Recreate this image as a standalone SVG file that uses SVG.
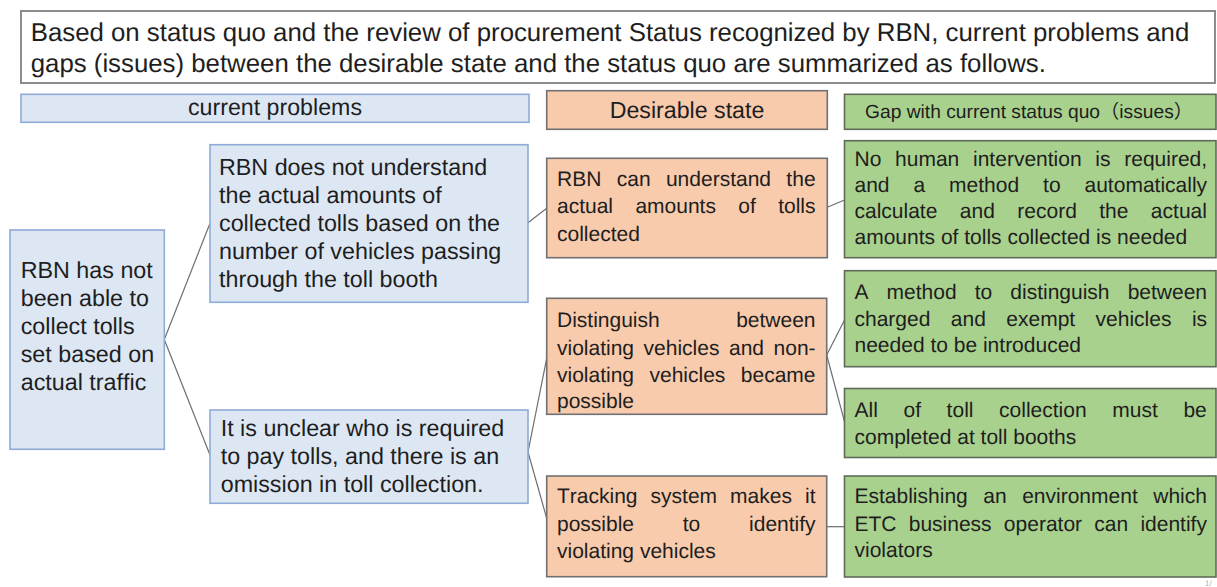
<svg xmlns="http://www.w3.org/2000/svg" width="1217" height="587" viewBox="0 0 1217 587">
<style>
text{font-family:"Liberation Sans",Arial,sans-serif;fill:#1e1e1e;font-kerning:none;text-rendering:geometricPrecision}
.title{font-size:25.8px}
.hd{font-size:23.2px}
.b{font-size:23.3px}
.j{font-size:21px}
.blue{fill:#dde7f4;stroke:#8eaad6;stroke-width:1.6}
.org{fill:#f8cbad;stroke:#707070;stroke-width:1.6}
.grn{fill:#a9d18e;stroke:#5f6b58;stroke-width:1.6}
.conn line{stroke:#6e6e6e;stroke-width:1.2;fill:none}
</style>
<rect width="1217" height="587" fill="#ffffff"/>
<g id="title">
<rect x="21" y="11" width="1194" height="72" fill="#ffffff" stroke="#8c8c8c" stroke-width="2"/>
<text class="title" x="30.7" y="40.7">Based on status quo and the review of procurement Status recognized by RBN, current problems and</text>
<text class="title" x="30.7" y="71.7">gaps (issues) between the desirable state and the status quo are summarized as follows.</text>
</g>
<g id="hdr-current">
<rect class="blue" x="21" y="94.3" width="508" height="28"/>
<text class="hd" x="275" y="115" text-anchor="middle">current problems</text>
</g>
<g id="hdr-desirable">
<rect class="org" x="546.7" y="90.7" width="280.6" height="38.6"/>
<text class="hd" x="687" y="118.3" text-anchor="middle">Desirable state</text>
</g>
<g id="hdr-gap">
<rect class="grn" x="844.5" y="94.3" width="371.5" height="35"/>
<text x="865" y="118.3" style="font-family:'Liberation Sans','Noto Sans CJK JP',sans-serif;font-size:19px" textLength="328" lengthAdjust="spacingAndGlyphs">Gap with current status quo（issues）</text>
</g>
<g class="conn" id="connectors">
<line x1="164.3" y1="339.5" x2="210" y2="223.3"/>
<line x1="164.3" y1="339.5" x2="210" y2="455"/>
<line x1="528" y1="222.7" x2="546.7" y2="208.3"/>
<line x1="827.3" y1="207.3" x2="844.5" y2="200"/>
<line x1="528" y1="452" x2="546.7" y2="358.3"/>
<line x1="528" y1="452" x2="546.7" y2="518.3"/>
<line x1="826.7" y1="355" x2="844.5" y2="320"/>
<line x1="826.7" y1="355" x2="844.5" y2="421.7"/>
<line x1="826.7" y1="526.7" x2="844.5" y2="526.7"/>
</g>
<g id="p-root">
<rect class="blue" x="10" y="230" width="154.3" height="219.3"/>
<text class="b" x="20.7" y="278.3">RBN has not</text>
<text class="b" x="20.7" y="306.3">been able to</text>
<text class="b" x="20.7" y="334.3">collect tolls</text>
<text class="b" x="20.7" y="362.3">set based on</text>
<text class="b" x="20.7" y="390.3">actual traffic</text>
</g>
<g id="p-amounts">
<rect class="blue" x="210" y="144.7" width="318" height="157.6"/>
<text class="b" x="219" y="174.5">RBN does not understand</text>
<text class="b" x="219" y="202.6">the actual amounts of</text>
<text class="b" x="219" y="230.7">collected tolls based on the</text>
<text class="b" x="219" y="258.8">number of vehicles passing</text>
<text class="b" x="219" y="286.9">through the toll booth</text>
</g>
<g id="p-unclear">
<rect class="blue" x="210" y="410" width="318" height="93.3"/>
<text class="b" x="220.7" y="436.3">It is unclear who is required</text>
<text class="b" x="220.7" y="464.3">to pay tolls, and there is an</text>
<text class="b" x="220.7" y="492">omission in toll collection.</text>
</g>
<g id="d-understand">
<rect class="org" x="546.7" y="158.3" width="280.6" height="99.4"/>
<text class="j" x="557" y="185.7" style="word-spacing:9.53px">RBN can understand the</text>
<text class="j" x="557" y="213.3" style="word-spacing:16.53px">actual amounts of tolls</text>
<text class="j" x="557" y="240.7">collected</text>
</g>
<g id="d-distinguish">
<rect class="org" x="546.7" y="298.3" width="280" height="116"/>
<text class="j" x="557" y="327.3" style="word-spacing:70.6px">Distinguish between</text>
<text class="j" x="557" y="355" style="word-spacing:3.7px">violating vehicles and non-</text>
<text class="j" x="557" y="381.7" style="word-spacing:9.6px">violating vehicles became</text>
<text class="j" x="557" y="408.3">possible</text>
</g>
<g id="d-tracking">
<rect class="org" x="546.7" y="476" width="280" height="100.7"/>
<text class="j" x="557" y="503.3" style="word-spacing:7.2px">Tracking system makes it</text>
<text class="j" x="557" y="531" style="word-spacing:42.9px">possible to identify</text>
<text class="j" x="557" y="558.3">violating vehicles</text>
</g>
<g id="g-auto">
<rect class="grn" x="844.5" y="140.7" width="371.5" height="117"/>
<text class="j" x="854.5" y="166" style="word-spacing:7.9px">No human intervention is required,</text>
<text class="j" x="854.5" y="192" style="word-spacing:18.1px">and a method to automatically</text>
<text class="j" x="854.5" y="218" style="word-spacing:16.6px">calculate and record the actual</text>
<text class="j" x="854.5" y="244">amounts of tolls collected is needed</text>
</g>
<g id="g-method">
<rect class="grn" x="844.5" y="270.7" width="371.5" height="96"/>
<text class="j" x="854.5" y="299" style="word-spacing:12.25px">A method to distinguish between</text>
<text class="j" x="854.5" y="325.7" style="word-spacing:14.6px">charged and exempt vehicles is</text>
<text class="j" x="854.5" y="352.4">needed to be introduced</text>
</g>
<g id="g-booths">
<rect class="grn" x="844.5" y="388.5" width="371.5" height="69"/>
<text class="j" x="854.5" y="416.7" style="word-spacing:19.8px">All of toll collection must be</text>
<text class="j" x="854.5" y="444">completed at toll booths</text>
</g>
<g id="g-etc">
<rect class="grn" x="844.5" y="476" width="371.5" height="101"/>
<text class="j" x="854.5" y="503.3" style="word-spacing:9.7px">Establishing an environment which</text>
<text class="j" x="854.5" y="530.7" style="word-spacing:6.4px">ETC business operator can identify</text>
<text class="j" x="854.5" y="557">violators</text>
</g>
<text x="1205" y="586" style="font-size:8px;fill:#b0b0b0">1/</text>
</svg>
